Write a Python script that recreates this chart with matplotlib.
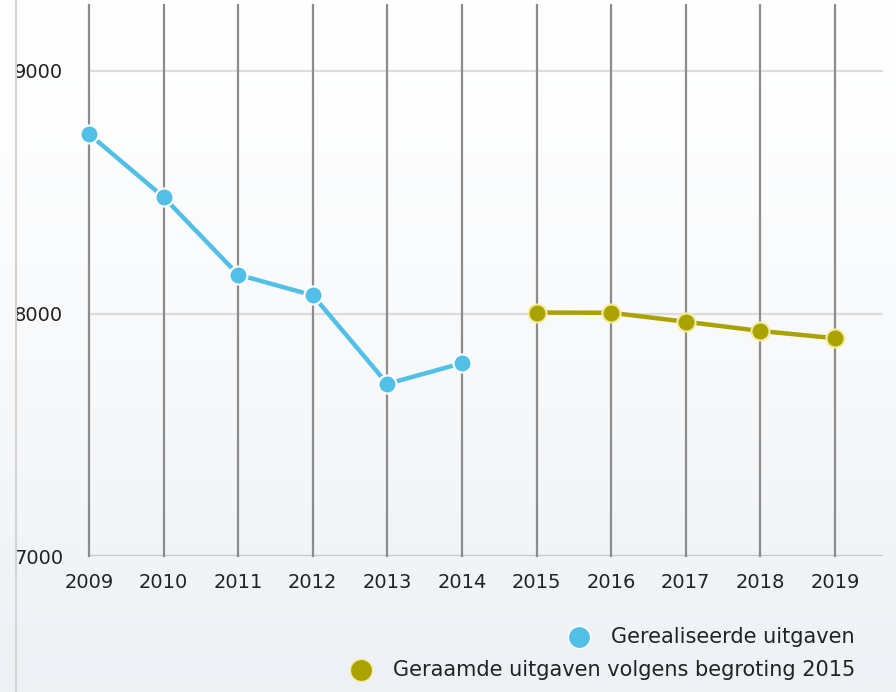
import matplotlib.pyplot as plt
import numpy as np
from matplotlib.lines import Line2D

years_real = [2009, 2010, 2011, 2012, 2013, 2014]
spend_real = [8740, 8480, 8160, 8075, 7710, 7795]

years_plan = [2015, 2016, 2017, 2018, 2019]
spend_plan = [8004, 8003, 7966, 7928, 7898]

all_years = list(range(2009, 2020))
y_ticks = [7000, 8000, 9000]

label_real = "Gerealiseerde uitgaven"
label_plan = "Geraamde uitgaven volgens begroting 2015"

blue = "#52c0e6"
olive = "#aaa200"

W, H = 896, 692
fig = plt.figure(figsize=(W / 100, H / 100), dpi=100)

# soft gradient background
bg = fig.add_axes([0, 0, 1, 1], zorder=-10)
grad = np.linspace(0, 1, 256).reshape(-1, 1)
top = np.array([1.0, 1.0, 1.0])
bottom = np.array([0.93, 0.945, 0.96])
img = top + (bottom - top) * grad[:, :, None] ** 1.3
bg.imshow(img, aspect="auto", extent=[0, 1, 0, 1], origin="upper")
bg.axis("off")

# thin frame line on the left
fig.add_artist(Line2D([16 / W, 16 / W], [0, 1], color="#d4d4d4", lw=1.5))

left, right = 89 / W, 883 / W
bottom_ax, top_ax = 1 - 556 / H, 1 - 5 / H
ax = fig.add_axes([left, bottom_ax, right - left, top_ax - bottom_ax])
ax.patch.set_alpha(0)

x_right = 2019 + (883 - 835) / ((835 - 89) / 10)
ax.set_xlim(2009, x_right)
ax.set_ylim(7000, 9000 + (71 - 5) / 242.5 * 1000)

for s in ax.spines.values():
    s.set_visible(False)

# grid
for y in y_ticks:
    ax.axhline(y, color="#dcdcdc" if y != 7000 else "#c4c4c4", lw=1.6, zorder=1)
for yr in all_years:
    ax.axvline(yr, color="#8c8c8c", lw=1.6, zorder=2, clip_on=False)

ax.plot(years_real, spend_real, color=blue, lw=3.2, marker="o", ms=13,
        mfc=blue, mec="white", mew=1.5, zorder=5, clip_on=False)
ax.plot(years_plan, spend_plan, color=olive, lw=3.2, marker="o", ms=13,
        mfc=olive, mec="#f3eda0", mew=1.5, zorder=5, clip_on=False)

ax.set_xticks(all_years)
ax.set_xticklabels([str(y) for y in all_years], fontsize=14, color="#222222")
ax.tick_params(axis="x", length=0, pad=12)

ax.set_yticks(y_ticks)
ax.set_yticklabels([str(y) for y in y_ticks], fontsize=14, color="#222222")
ax.tick_params(axis="y", length=0, pad=54)
for lab in ax.get_yticklabels():
    lab.set_horizontalalignment("left")

# legend, right aligned text with marker in front
renderer = fig.canvas.get_renderer()
entries = [(label_real, blue, "white", 637), (label_plan, olive, "#f3eda0", 670)]
for text, col, edge, ypix in entries:
    t = fig.text(855 / W, 1 - ypix / H, text, ha="right", va="center",
                 fontsize=15, color="#222222")
    bb = t.get_window_extent(renderer)
    fig.add_artist(Line2D([(bb.x0 - 32) / W], [1 - ypix / H], marker="o", ms=16,
                          mfc=col, mec=edge, mew=1, linestyle="none"))

fig.savefig("out.png", dpi=100)
